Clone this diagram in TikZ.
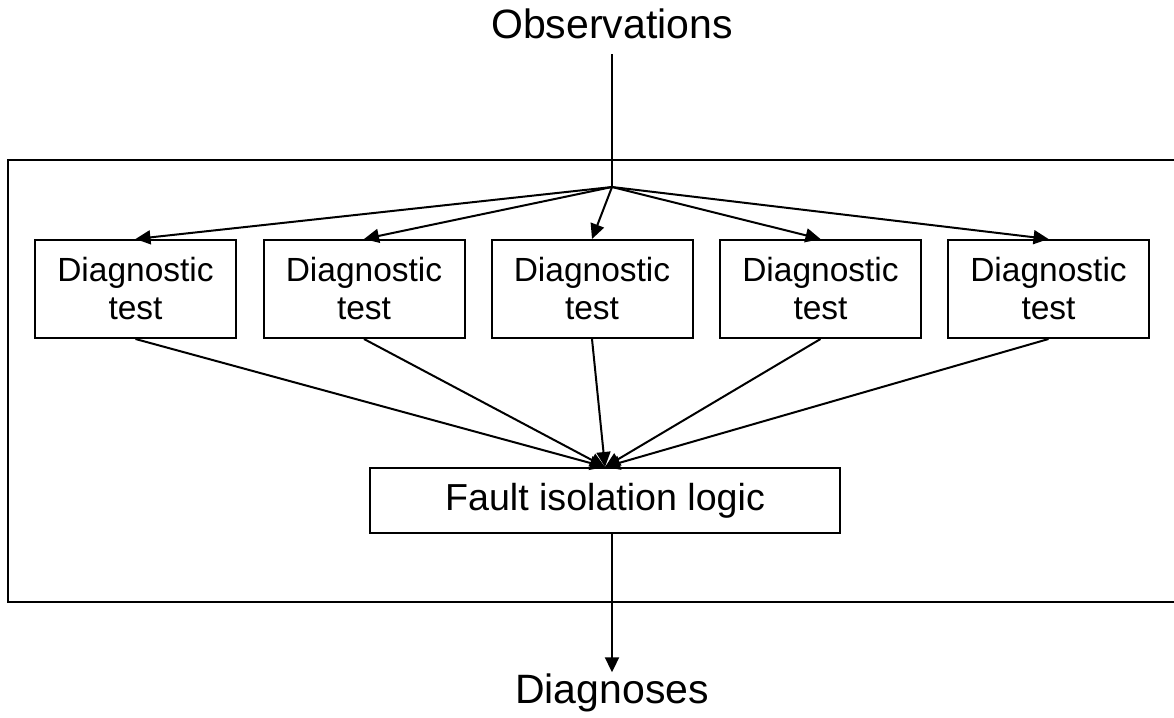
\documentclass[tikz,border=0pt]{standalone}
\usepackage{fontspec}
\setmainfont{Liberation Sans}
\usetikzlibrary{arrows.meta}
\begin{document}
\begin{tikzpicture}[x=1pt,y=-1pt,
  line width=2pt,
  conn/.style={-{Triangle[length=15pt,width=14pt]}},
  dbox/.style={draw,minimum width=201pt,minimum height=98pt,align=center,inner sep=0pt,
    font=\fontsize{33.5}{38}\selectfont},
  fbox/.style={draw,minimum width=470pt,minimum height=65pt,inner sep=0pt,
    font=\fontsize{37.6}{42}\selectfont},
  big/.style={inner sep=0pt,font=\fontsize{41}{46}\selectfont}]
\useasboundingbox (0,0) rectangle (1174,717);
% outer frame (open on the right)
\draw (1180,160) -- (8,160) -- (8,602) -- (1180,602);
\node[big,anchor=base] (obs) at (612,38) {Observations};
\coordinate (hub) at (612,187);
\node[dbox] (d1) at (135.5,289) {Diagnostic\\test};
\node[dbox] (d2) at (364,289) {Diagnostic\\test};
\node[dbox] (d3) at (592,289) {Diagnostic\\test};
\node[dbox] (d4) at (820.5,289) {Diagnostic\\test};
\node[dbox] (d5) at (1048.5,289) {Diagnostic\\test};
\node[fbox] (f) at (605,500.5) {Fault isolation logic};
\node[big,anchor=base] (diag) at (612,703) {Diagnoses};
\draw ([yshift=-15pt]obs.south) -- (hub);
\foreach \i in {1,...,5}{
  \draw[conn] (hub) -- (d\i.north);
  \draw[conn] (d\i.south) -- (f.north);
}
\draw[conn] (f.south -| diag) -- (diag.north);
\end{tikzpicture}
\end{document}
